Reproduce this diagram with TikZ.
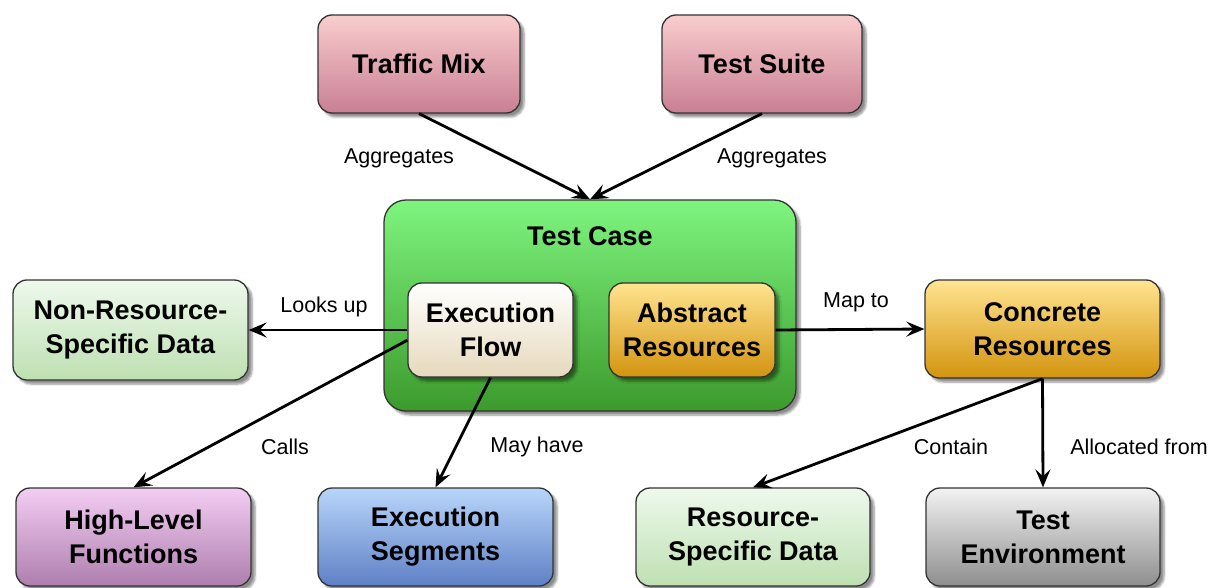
\documentclass[tikz,border=0pt]{standalone}
\usepackage{fontspec}
\setmainfont{Liberation Sans}
\usetikzlibrary{arrows.meta,shadows.blur}
\definecolor{tmtop}{HTML}{F9CDCD}
\definecolor{tmbot}{HTML}{C97F94}
\definecolor{tctop}{HTML}{7EF57E}
\definecolor{tcbot}{HTML}{3C9A2C}
\definecolor{eftop}{HTML}{FFFFFF}
\definecolor{efbot}{HTML}{E6D9BC}
\definecolor{artop}{HTML}{FFE490}
\definecolor{arbot}{HTML}{D3940F}
\definecolor{dtop}{HTML}{EEF9EC}
\definecolor{dbot}{HTML}{BEE0B2}
\definecolor{hltop}{HTML}{F3CDF3}
\definecolor{hlbot}{HTML}{AE7EAE}
\definecolor{estop}{HTML}{B8D6FA}
\definecolor{esbot}{HTML}{5F80C6}
\definecolor{tetop}{HTML}{F2F2F2}
\definecolor{tebot}{HTML}{8E8E8E}
\begin{document}
\begin{tikzpicture}[x=1pt,y=-1pt,
  box/.style={rectangle, rounded corners=14pt, draw=black!80, line width=1.3pt,
    align=center, inner sep=0pt,
    font=\bfseries\fontsize{27}{34}\selectfont,
    blur shadow={shadow xshift=4pt, shadow yshift=-4pt, shadow blur steps=6, shadow opacity=45}},
  conn/.style={line width=2.8pt, -{Stealth[length=18pt,width=15pt,inset=7pt]}},
  lab/.style={font=\fontsize{21.5}{25}\selectfont, inner sep=0pt}
]
\useasboundingbox (0,0) rectangle (1212,588);
% top
\node[box, minimum width=202pt, minimum height=98pt, top color=tmtop, bottom color=tmbot] (tm) at (419,64) {Traffic Mix};
\node[box, minimum width=200pt, minimum height=98pt, top color=tmtop, bottom color=tmbot] (ts) at (762,64) {Test Suite};
% test case
\node[box, rounded corners=22pt, minimum width=412pt, minimum height=211pt, top color=tctop, bottom color=tcbot] (tc) at (590,305.5) {};
\node[font=\bfseries\fontsize{27}{34}\selectfont, inner sep=0pt] (tct) at (590,236) {Test Case};
\node[box, minimum width=165pt, minimum height=94pt, top color=eftop, bottom color=efbot] (ef) at (490.5,330) {Execution\\Flow};
\node[box, minimum width=166pt, minimum height=94pt, top color=artop, bottom color=arbot] (ar) at (692,330) {Abstract\\Resources};
% sides
\node[box, minimum width=235pt, minimum height=100pt, top color=dtop, bottom color=dbot] (nr) at (130.5,330) {Non-Resource-\\Specific Data};
\node[box, minimum width=235pt, minimum height=98pt, top color=artop, bottom color=arbot] (cr) at (1042.5,329) {Concrete\\Resources};
% bottom
\node[box, minimum width=235pt, minimum height=98pt, top color=hltop, bottom color=hlbot] (hl) at (133.5,537) {High-Level\\Functions};
\node[box, minimum width=235pt, minimum height=98pt, top color=estop, bottom color=esbot] (es) at (435.5,537) {Execution\\Segments};
\node[box, minimum width=234pt, minimum height=98pt, top color=dtop, bottom color=dbot] (rs) at (753,537) {Resource-\\Specific Data};
\node[box, minimum width=234pt, minimum height=98pt, top color=tetop, bottom color=tebot] (te) at (1043,537) {Test\\Environment};
% connectors
\draw[conn] (tm.south) -- (tc.north);
\draw[conn] (ts.south) -- (tc.north);
\draw[conn] (ef.west) -- (nr.east);
\draw[conn] (ef.187) -- (hl.north);
\draw[conn] (ef.south) -- (es.north);
\draw[conn] (ar.east) -- (cr.west);
\draw[conn] (cr.south) -- (rs.north);
\draw[conn] (cr.south) -- (te.north);
% labels
\node[lab] (l1) at (399,158) {Aggregates};
\node[lab] (l2) at (772,158) {Aggregates};
\node[lab] (l3) at (324,307) {Looks up};
\node[lab] (l4) at (856,302) {Map to};
\node[lab] (l5) at (285,447) {Calls};
\node[lab] (l6) at (537,447) {May have};
\node[lab] (l7) at (951,447) {Contain};
\node[lab] (l8) at (1139,447) {Allocated from};
\end{tikzpicture}
\end{document}
